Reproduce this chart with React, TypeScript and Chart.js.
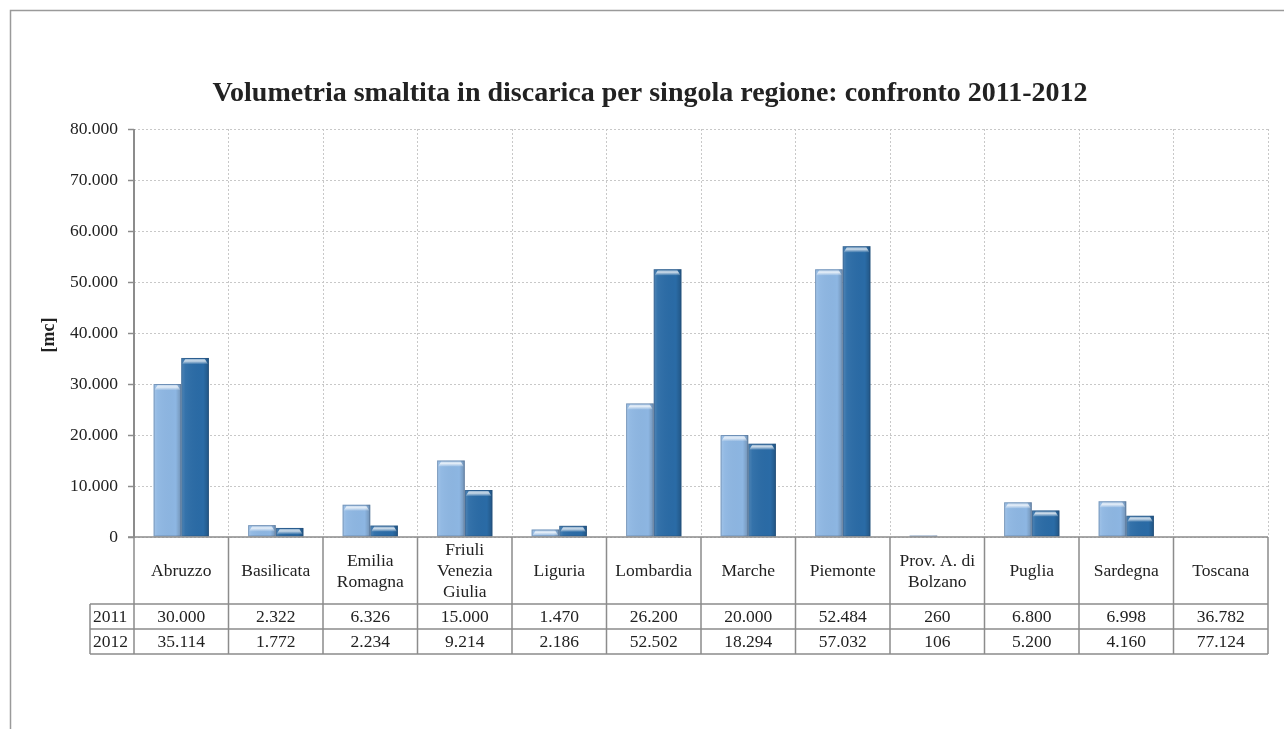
import React, { useEffect, useRef } from "react";
import { Chart, registerables } from "chart.js";

Chart.register(...registerables);

const chartTitle = "Volumetria smaltita in discarica per singola regione: confronto 2011-2012";
const yAxisTitle = "[mc]";
const categories: string[][] = [
  ["Abruzzo"],
  ["Basilicata"],
  ["Emilia", "Romagna"],
  ["Friuli", "Venezia", "Giulia"],
  ["Liguria"],
  ["Lombardia"],
  ["Marche"],
  ["Piemonte"],
  ["Prov. A. di", "Bolzano"],
  ["Puglia"],
  ["Sardegna"],
  ["Toscana"],
];
const seriesLabels = ["2011", "2012"];
const values2011 = [30000, 2322, 6326, 15000, 1470, 26200, 20000, 52484, 260, 6800, 6998, 36782];
const values2012 = [35114, 1772, 2234, 9214, 2186, 52502, 18294, 57032, 106, 5200, 4160, 77124];
// regions listed in the table whose bars are not drawn in the original chart
const regionsWithoutBars = ["Toscana"];
const yMin = 0;
const yMax = 80000;
const yStep = 10000;

const W = 1284;
const H = 729;
const FONT = "'Liberation Serif', 'Times New Roman', serif";
const LINE = "#8c8c8c";
const TEXT = "#222222";
const COLORS = ["#8db6e2", "#2a6ba6"];

const fmt = (n: number) => String(n).replace(/\B(?=(\d{3})+(?!\d))/g, ".");

const barData = (vals: number[]) =>
  vals.map((v, i) => (regionsWithoutBars.includes(categories[i].join(" ")) ? null : v));

const decorPlugin = {
  id: "decor",
  afterDatasetsDraw(chart: any) {
    const ctx = chart.ctx as CanvasRenderingContext2D;
    chart.data.datasets.forEach((_: any, di: number) => {
      const meta = chart.getDatasetMeta(di);
      meta.data.forEach((el: any) => {
        if (el.skip || el.y == null || isNaN(el.y)) return;
        const { x, y, base, width } = el.getProps(["x", "y", "base", "width"], true);
        const l = x - width / 2;
        const h = base - y;
        if (h <= 0.5) return;
        ctx.save();
        const g = ctx.createLinearGradient(l, 0, l + width, 0);
        g.addColorStop(0, "rgba(255,255,255,0.18)");
        g.addColorStop(0.15, "rgba(255,255,255,0.05)");
        g.addColorStop(0.8, "rgba(0,0,0,0.0)");
        g.addColorStop(1, "rgba(0,0,0,0.2)");
        ctx.fillStyle = g;
        ctx.fillRect(l, y, width, h);
        const capH = Math.min(6, h);
        const cg = ctx.createLinearGradient(0, y, 0, y + capH);
        cg.addColorStop(0, "rgba(255,255,255,0.35)");
        cg.addColorStop(0.5, "rgba(255,255,255,0.75)");
        cg.addColorStop(1, "rgba(255,255,255,0.1)");
        ctx.fillStyle = cg;
        ctx.beginPath();
        ctx.moveTo(l + 1, y + capH);
        ctx.lineTo(l + 4, y + 1);
        ctx.lineTo(l + width - 4, y + 1);
        ctx.lineTo(l + width - 1, y + capH);
        ctx.closePath();
        ctx.fill();
        ctx.strokeStyle = "rgba(40,60,90,0.3)";
        ctx.lineWidth = 1;
        ctx.strokeRect(l + 0.5, y + 0.5, width - 1, h - 1);
        ctx.restore();
      });
    });
  },
  afterDraw(chart: any) {
    const ctx = chart.ctx as CanvasRenderingContext2D;
    const area = chart.chartArea;
    const xs = chart.scales.x;
    const ys = chart.scales.y;
    ctx.save();
    // outer frame
    ctx.strokeStyle = "#9a9a9a";
    ctx.lineWidth = 1.5;
    ctx.beginPath();
    ctx.moveTo(10.5, H);
    ctx.lineTo(10.5, 10.5);
    ctx.lineTo(W, 10.5);
    ctx.stroke();

    // title
    ctx.fillStyle = TEXT;
    ctx.font = `bold 28px ${FONT}`;
    ctx.textAlign = "center";
    ctx.textBaseline = "middle";
    ctx.fillText(chartTitle, 650, 94);

    // y title
    ctx.save();
    ctx.translate(49, 335);
    ctx.rotate(-Math.PI / 2);
    ctx.font = `bold 18px ${FONT}`;
    ctx.fillText(yAxisTitle, 0, 0);
    ctx.restore();

    // axes
    ctx.strokeStyle = LINE;
    ctx.lineWidth = 2;
    ctx.beginPath();
    ctx.moveTo(area.left, area.top);
    ctx.lineTo(area.left, area.bottom);
    ctx.stroke();
    ys.ticks.forEach((t: any) => {
      const py = Math.round(ys.getPixelForValue(t.value)) + 0.5;
      ctx.lineWidth = 1.5;
      ctx.beginPath();
      ctx.moveTo(area.left - 6, py);
      ctx.lineTo(area.left, py);
      ctx.stroke();
    });

    // data table
    const n = categories.length;
    const half = (xs.getPixelForValue(1) - xs.getPixelForValue(0)) / 2;
    const bounds: number[] = [];
    for (let i = 0; i < n; i++) bounds.push(xs.getPixelForValue(i) - half);
    bounds.push(xs.getPixelForValue(n - 1) + half);
    const top = area.bottom;
    const headerBottom = top + 67;
    const rowH = 25;
    const tableBottom = headerBottom + rowH * seriesLabels.length;
    const labelLeft = area.left - 44;

    ctx.lineWidth = 1.5;
    ctx.beginPath();
    ctx.moveTo(area.left - 6, top);
    ctx.lineTo(area.right, top);
    bounds.forEach((bx) => {
      ctx.moveTo(bx, top);
      ctx.lineTo(bx, tableBottom);
    });
    for (let r = 0; r <= seriesLabels.length; r++) {
      const yy = headerBottom + r * rowH;
      ctx.moveTo(labelLeft, yy);
      ctx.lineTo(area.right, yy);
    }
    ctx.moveTo(labelLeft, headerBottom);
    ctx.lineTo(labelLeft, tableBottom);
    ctx.stroke();

    ctx.fillStyle = TEXT;
    ctx.font = `17.5px ${FONT}`;
    ctx.textAlign = "center";
    ctx.textBaseline = "middle";
    const lh = 21;
    categories.forEach((lines, i) => {
      const cx = xs.getPixelForValue(i);
      const cy = (top + headerBottom) / 2 + 1;
      lines.forEach((ln, k) => {
        ctx.fillText(ln, cx, cy + (k - (lines.length - 1) / 2) * lh);
      });
    });
    const rows = [values2011, values2012];
    rows.forEach((vals, r) => {
      const cy = headerBottom + r * rowH + rowH / 2 + 1;
      ctx.textAlign = "left";
      ctx.fillText(seriesLabels[r], labelLeft + 3, cy);
      ctx.textAlign = "center";
      vals.forEach((v, i) => ctx.fillText(fmt(v), xs.getPixelForValue(i), cy));
    });
    ctx.restore();
  },
};

export default function App() {
  const ref = useRef<HTMLCanvasElement | null>(null);
  useEffect(() => {
    if (!ref.current) return;
    const yTicks: number[] = [];
    for (let v = yMin; v <= yMax; v += yStep) yTicks.push(v);
    const chart = new Chart(ref.current, {
      type: "bar",
      data: {
        labels: categories.map((c) => c.join(" ")),
        datasets: [
          { label: seriesLabels[0], data: barData(values2011), backgroundColor: COLORS[0] },
          { label: seriesLabels[1], data: barData(values2012), backgroundColor: COLORS[1] },
        ],
      },
      options: {
        animation: false,
        responsive: false,
        devicePixelRatio: 1,
        layout: { padding: { left: 0, right: 16, top: 129, bottom: 192 } },
        plugins: {
          legend: { display: false },
          title: { display: false },
          tooltip: { enabled: false },
        },
        datasets: { bar: { categoryPercentage: 0.585, barPercentage: 1 } },
        scales: {
          x: {
            offset: true,
            ticks: { display: false },
            grid: { display: true, offset: true, color: "#c8c8c8", lineWidth: 1, drawTicks: false },
            border: { display: false, dash: [2, 2] },
            afterFit: (s: any) => {
              s.height = 0;
            },
          },
          y: {
            min: yMin,
            max: yMax,
            afterBuildTicks: (s: any) => {
              s.ticks = yTicks.map((v) => ({ value: v }));
            },
            ticks: {
              padding: 16,
              color: TEXT,
              font: { family: FONT, size: 17.5 },
              callback: (v: any) => fmt(Number(v)),
            },
            grid: { color: "#c8c8c8", lineWidth: 1, drawTicks: false },
            border: { display: false, dash: [2, 2] },
            afterFit: (s: any) => {
              s.width = 134;
            },
          },
        },
      },
      plugins: [decorPlugin],
    });
    return () => chart.destroy();
  }, []);
  return (
    <div style={{ position: "fixed", left: 0, top: 0, width: W, height: H, background: "#fff" }}>
      <canvas ref={ref} width={W} height={H} style={{ width: W, height: H, display: "block" }} />
    </div>
  );
}
